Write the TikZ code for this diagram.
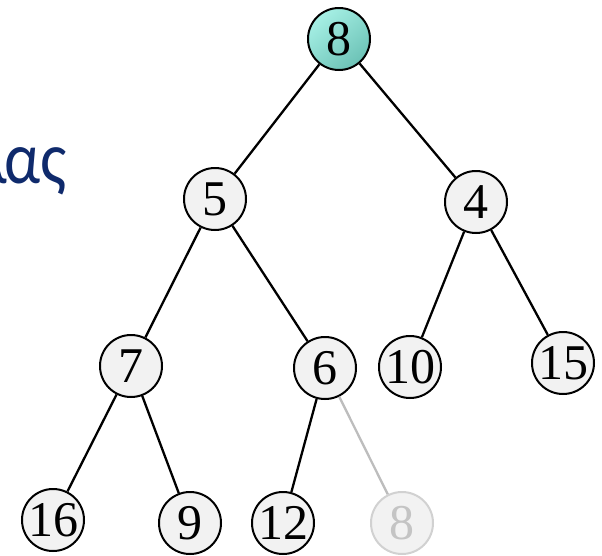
\documentclass[tikz,border=0pt]{standalone}
\usepackage{fontspec}
\setmainfont{Liberation Serif}
\newfontfamily\greekfont{Carlito}
\definecolor{nodefill}{HTML}{F2F2F2}
\definecolor{rootlight}{HTML}{A6F0E5}
\definecolor{rootdark}{HTML}{6CC2B6}
\definecolor{fadeline}{HTML}{BDBDBD}
\definecolor{fadetext}{HTML}{C4C4C4}
\definecolor{titleblue}{HTML}{0F2A6C}
\tikzset{
  heapnode/.style={circle, draw=black, line width=2pt, fill=nodefill,
    minimum size=62pt, inner sep=0pt,
    font=\fontsize{50}{50}\selectfont},
  rootnode/.style={heapnode, fill=none, top color=rootlight, bottom color=rootdark, shading angle=40},
  ghostnode/.style={heapnode, draw=fadeline!70, text=fadetext},
  edge/.style={line width=2.3pt, draw=black},
  ghostedge/.style={line width=2.3pt, draw=fadeline}
}
\begin{document}
\begin{tikzpicture}[x=1pt,y=-1pt]
  \useasboundingbox (0,0) rectangle (602,555);
  \clip (0,0) rectangle (602,555);
  % partially visible heading
  \node[anchor=base east, inner sep=0pt, text=titleblue,
        font=\greekfont\fontsize{74}{74}\selectfont] (title) at (67,183)
        {\scalebox{0.86}[1]{λ\kern-3ptας}};
  % heap nodes
  \node[rootnode]  (n8)  at (339,39)  {8};
  \node[heapnode]  (n5)  at (215,199) {5};
  \node[heapnode]  (n4)  at (476,202) {4};
  \node[heapnode]  (n7)  at (131,366) {7};
  \node[heapnode]  (n6)  at (325,368) {6};
  \node[heapnode]  (n10) at (410,367) {10};
  \node[heapnode]  (n15) at (563,363) {15};
  \node[heapnode]  (n16) at (53,520)  {16};
  \node[heapnode]  (n9)  at (190,523) {9};
  \node[heapnode]  (n12) at (283,523) {12};
  \node[ghostnode] (g8)  at (402,523) {8};
  % tree edges
  \draw[edge] (n8) -- (n5);
  \draw[edge] (n8) -- (n4);
  \draw[edge] (n5) -- (n7);
  \draw[edge] (n5) -- (n6);
  \draw[edge] (n4) -- (n10);
  \draw[edge] (n4) -- (n15);
  \draw[edge] (n7) -- (n16);
  \draw[edge] (n7) -- (n9);
  \draw[edge] (n6) -- (n12);
  \draw[ghostedge] (n6) -- (g8);
\end{tikzpicture}
\end{document}
